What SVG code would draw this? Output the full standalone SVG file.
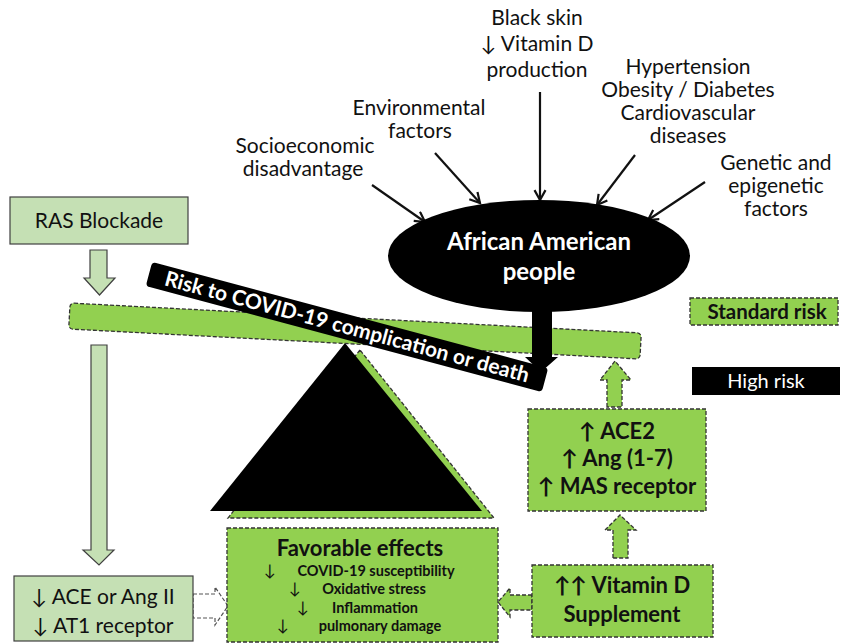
<svg xmlns="http://www.w3.org/2000/svg" width="841" height="644" viewBox="0 0 841 644">
<defs>
<style>
.t{font-family:Lato,"Liberation Sans",sans-serif;fill:#111;}
.r{font-size:21px;}
.b{font-weight:bold;}
.lg{fill:#c5e0b4;stroke:#404040;stroke-width:1.2;}
.gd{fill:#92d050;stroke:#333;stroke-width:1.3;stroke-dasharray:4 2;}
.wd{fill:#fff;stroke:#555;stroke-width:1.2;stroke-dasharray:4 2;}
.in{stroke:#111;stroke-width:2.2;fill:none;marker-end:url(#ah);}
</style>
<marker id="ah" viewBox="0 0 12 12" refX="10" refY="6" markerWidth="6" markerHeight="6" orient="auto" markerUnits="strokeWidth">
<path d="M1,1 L10,6 L1,11" fill="none" stroke="#111" stroke-width="2"/>
</marker>
</defs>
<rect width="841" height="644" fill="#fff"/>

<g id="connectors">
<path class="in" d="M372,185 L425,222"/>
<path class="in" d="M435,153 L480,203"/>
<path class="in" d="M540,92 L540,200"/>
<path class="in" d="M635,155 L597,205"/>
<path class="in" d="M705,182 L648,220"/>
<path class="lg" d="M90,250 H107 V278 H115 L99.5,295 L84,278 H90 Z"/>
<path class="lg" d="M91,345 H107 V550 H114 L99,565 L83,550 H91 Z"/>
<path class="wd" d="M193,594 H215 V587 L228,606 L215,625 V618 H193 Z"/>
<path class="gd" d="M532,595 H510 V588 L498,602 L510,617 V610 H532 Z"/>
<path class="gd" d="M613,558 V530 H605 L620,515 L636,530 H628 V558 Z"/>
<path class="gd" d="M607,407 V380 H600 L615,361 L631,380 H622 V407 Z"/>
</g>

<g id="input-labels">
<text class="t r" text-anchor="middle"><tspan x="537" y="25">Black skin</tspan><tspan x="537" y="51">↓ Vitamin D</tspan><tspan x="537" y="77">production</tspan></text>
<text class="t r" text-anchor="middle"><tspan x="419" y="115">Environmental</tspan><tspan x="420" y="138">factors</tspan></text>
<text class="t r" text-anchor="middle"><tspan x="305" y="153">Socioeconomic</tspan><tspan x="303" y="176">disadvantage</tspan></text>
<text class="t r" text-anchor="middle"><tspan x="688" y="74">Hypertension</tspan><tspan x="688" y="97">Obesity / Diabetes</tspan><tspan x="688" y="120">Cardiovascular</tspan><tspan x="688" y="143">diseases</tspan></text>
<text class="t r" text-anchor="middle"><tspan x="776" y="170">Genetic and</tspan><tspan x="776" y="193">epigenetic</tspan><tspan x="776" y="216">factors</tspan></text>
</g>

<g id="ras-blockade">
<rect class="lg" x="10" y="197" width="178" height="47"/>
<text class="t" x="99" y="228" text-anchor="middle" font-size="21">RAS Blockade</text>
</g>

<g id="fulcrum">
<polygon class="gd" points="360,350 228,518 494,518"/>
<polygon points="345,343 210,511 482,511" fill="#000"/>
</g>

<g id="beam">
<rect class="gd" x="-286" y="-13" width="572" height="26" rx="4" transform="translate(355,331) rotate(3.01)"/>
</g>

<g id="african-american">
<ellipse cx="539" cy="256" rx="151" ry="56" fill="#000"/>
<text class="t b" text-anchor="middle" font-size="24" style="fill:#fff"><tspan x="539" y="250">African American</tspan><tspan x="539" y="280">people</tspan></text>
<path d="M532,305 H552 V357 H558 L541,372 L525,357 H532 Z" fill="#000"/>
</g>

<g id="risk-label" transform="translate(347,327) rotate(15)">
<rect x="-205" y="-12.5" width="410" height="25" rx="4" fill="#000"/>
<text class="t b" x="0" y="7" text-anchor="middle" font-size="21" style="fill:#fff">Risk to COVID-19 complication or death</text>
</g>

<g id="standard-risk">
<rect class="gd" x="690" y="298" width="148" height="27"/>
<text class="t b" x="767" y="319" text-anchor="middle" font-size="20.5">Standard risk</text>
</g>

<g id="high-risk">
<rect x="692" y="367" width="148" height="28" fill="#000"/>
<text class="t" x="766" y="388" text-anchor="middle" font-size="20" style="fill:#fff">High risk</text>
</g>

<g id="ace2-box">
<rect class="gd" x="528" y="409" width="178" height="102"/>
<text class="t b" text-anchor="middle" font-size="22"><tspan x="617" y="439">↑ ACE2</tspan><tspan x="617" y="466">↑ Ang (1-7)</tspan><tspan x="617" y="494">↑ MAS receptor</tspan></text>
</g>

<g id="vitamin-d">
<rect class="gd" x="532" y="565" width="181" height="72"/>
<text class="t b" text-anchor="middle" font-size="22"><tspan x="622" y="593">↑↑ Vitamin D</tspan><tspan x="622" y="622">Supplement</tspan></text>
</g>

<g id="favorable-effects">
<rect class="gd" x="227" y="528" width="271" height="114"/>
<text class="t b" x="360" y="556" text-anchor="middle" font-size="22">Favorable effects</text>
<g class="t" font-size="16"><text x="270" y="576" text-anchor="middle">↓</text><text x="295" y="594" text-anchor="middle">↓</text><text x="303" y="613" text-anchor="middle">↓</text><text x="283" y="631" text-anchor="middle">↓</text></g>
<g class="t b" font-size="14.5" text-anchor="middle"><text x="376" y="576">COVID-19 susceptibility</text><text x="374" y="594">Oxidative stress</text><text x="375" y="613">Inflammation</text><text x="380" y="631">pulmonary damage</text></g>
</g>

<g id="ace-box">
<rect class="lg" x="14" y="576" width="179" height="65"/>
<text class="t" text-anchor="middle" font-size="21"><tspan x="103" y="604">↓ ACE or Ang II</tspan><tspan x="103" y="633">↓ AT1 receptor</tspan></text>
</g>
</svg>
